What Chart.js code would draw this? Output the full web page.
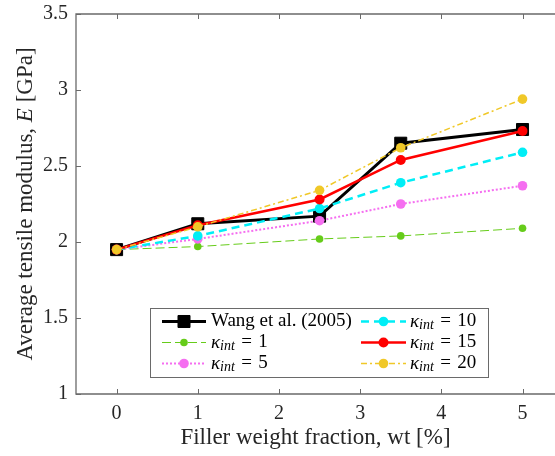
<!DOCTYPE html>
<html>
<head>
<meta charset="utf-8">
<script src="https://cdn.jsdelivr.net/npm/chart.js@4.4.1/dist/chart.umd.min.js"></script>
<style>
  html, body { margin: 0; padding: 0; background: #fff; overflow: hidden; }
  canvas { display: block; }
</style>
</head>
<body>
<canvas id="modulusChart" width="555" height="456"></canvas>
<script>
// filler content (wt %) and modulus E (GPa)
const wtFraction = [0, 1, 2.5, 3.5, 5];
const wang2005 = [1.95, 2.12, 2.17, 2.65, 2.74];
const kappa1 = [1.95, 1.97, 2.02, 2.04, 2.09];
const kappa5 = [1.95, 2.02, 2.14, 2.25, 2.37];
const kappa10 = [1.95, 2.04, 2.22, 2.39, 2.59];
const kappa15 = [1.95, 2.11, 2.28, 2.54, 2.73];
const kappa20 = [1.95, 2.10, 2.34, 2.62, 2.94];
const kappaValues = [1, 5, 10, 15, 20];
const xTicks = [0, 1, 2, 3, 4, 5];
const yTicks = [1, 1.5, 2, 2.5, 3, 3.5];

const serif = "'Liberation Serif', 'Times New Roman', serif";
const axisGray = "#6a6a6a";

function toPoints(values) {
  return values.map((v, i) => ({ x: wtFraction[i], y: v }));
}

const datasets = [
  {
    label: "Wang et al. (2005)",
    data: toPoints(wang2005),
    borderColor: "#000000",
    backgroundColor: "#000000",
    borderWidth: 3,
    pointStyle: "rect",
    pointRadius: 8.5,
    pointBorderWidth: 1,
    order: 6,
  },
  {
    label: "kappa=" + kappaValues[0],
    data: toPoints(kappa1),
    borderColor: "#66cc1a",
    backgroundColor: "#66cc1a",
    borderWidth: 1,
    borderDash: [9, 4],
    pointRadius: 3.8,
    pointBorderWidth: 0,
    order: 5,
  },
  {
    label: "kappa=" + kappaValues[1],
    data: toPoints(kappa5),
    borderColor: "#f56ef0",
    backgroundColor: "#f56ef0",
    borderWidth: 2,
    borderDash: [2, 2],
    pointRadius: 4.8,
    pointBorderWidth: 0,
    order: 4,
  },
  {
    label: "kappa=" + kappaValues[2],
    data: toPoints(kappa10),
    borderColor: "#00eef6",
    backgroundColor: "#00eef6",
    borderWidth: 2.5,
    borderDash: [8, 5],
    pointRadius: 4.8,
    pointBorderWidth: 0,
    order: 3,
  },
  {
    label: "kappa=" + kappaValues[3],
    data: toPoints(kappa15),
    borderColor: "#ff0000",
    backgroundColor: "#ff0000",
    borderWidth: 2.5,
    pointRadius: 5,
    pointBorderWidth: 0,
    order: 2,
  },
  {
    label: "kappa=" + kappaValues[4],
    data: toPoints(kappa20),
    borderColor: "#f0c828",
    backgroundColor: "#f0c828",
    borderWidth: 1.5,
    borderDash: [6, 3, 2, 3],
    pointRadius: 4.8,
    pointBorderWidth: 0,
    order: 1,
  },
];

// draws a sequence of text pieces with their own fonts, centred on (x, y)
function drawRich(ctx, parts, x, y) {
  let total = 0;
  parts.forEach((p) => {
    ctx.font = p.font;
    total += ctx.measureText(p.text).width;
  });
  drawLeftRich(ctx, parts, x - total / 2, y);
}

function drawLeftRich(ctx, parts, x, y) {
  let cx = x;
  parts.forEach((p) => {
    ctx.font = p.font;
    ctx.fillText(p.text, cx, y + (p.dy || 0));
    cx += ctx.measureText(p.text).width;
  });
}

function drawMarker(ctx, ds, x, y) {
  ctx.setLineDash([]);
  ctx.fillStyle = ds.backgroundColor;
  ctx.strokeStyle = ds.borderColor;
  ctx.beginPath();
  if (ds.pointStyle === "rect") {
    const s = ds.pointRadius * Math.SQRT1_2;
    ctx.rect(x - s, y - s, 2 * s, 2 * s);
    ctx.fill();
    ctx.lineWidth = ds.pointBorderWidth;
    ctx.stroke();
  } else {
    ctx.arc(x, y, ds.pointRadius, 0, Math.PI * 2);
    ctx.fill();
  }
}

const framePlugin = {
  id: "frame",
  beforeDatasetsDraw(chart) {
    const { ctx, chartArea: a, scales } = chart;
    ctx.save();
    ctx.strokeStyle = axisGray;
    ctx.lineWidth = 1.3;
    // left, bottom and top axis lines (right side stays open)
    ctx.beginPath();
    ctx.moveTo(chart.width, a.top);
    ctx.lineTo(a.left, a.top);
    ctx.lineTo(a.left, a.bottom);
    ctx.lineTo(chart.width, a.bottom);
    ctx.stroke();
    // inward tick marks
    ctx.lineWidth = 1;
    ctx.beginPath();
    xTicks.forEach((v) => {
      const px = Math.round(scales.x.getPixelForValue(v)) + 0.5;
      ctx.moveTo(px, a.bottom);
      ctx.lineTo(px, a.bottom - 5);
      ctx.moveTo(px, a.top);
      ctx.lineTo(px, a.top + 5);
    });
    yTicks.forEach((v) => {
      const py = Math.round(scales.y.getPixelForValue(v)) + 0.5;
      ctx.moveTo(a.left, py);
      ctx.lineTo(a.left + 5, py);
    });
    ctx.stroke();

    // y axis title with italic symbol
    ctx.translate(26, (a.top + a.bottom) / 2);
    ctx.rotate(-Math.PI / 2);
    ctx.fillStyle = "#262626";
    ctx.textBaseline = "middle";
    drawRich(ctx, [
      { text: "Average tensile modulus, ", font: "23px " + serif },
      { text: "E", font: "italic 23px " + serif },
      { text: " [GPa]", font: "23px " + serif },
    ], 0, 0);
    ctx.restore();
  },
  afterDatasetsDraw(chart) {
    const { ctx } = chart;
    const ds = chart.data.datasets;
    const box = { left: 150, top: 308, right: 488, bottom: 377 };
    ctx.save();
    ctx.fillStyle = "#ffffff";
    ctx.fillRect(box.left, box.top, box.right - box.left, box.bottom - box.top);
    ctx.strokeStyle = axisGray;
    ctx.lineWidth = 1;
    ctx.strokeRect(box.left + 0.5, box.top + 0.5, box.right - box.left, box.bottom - box.top);

    const rows = [321.5, 342.5, 363.5];
    const cols = [{ x0: 162, x1: 206, tx: 211 }, { x0: 361, x1: 406, tx: 410 }];
    // column-major arrangement: first three entries left, rest right
    ds.forEach((d, i) => {
      const col = cols[Math.floor(i / 3)];
      const y = rows[i % 3];
      ctx.strokeStyle = d.borderColor;
      ctx.lineWidth = d.borderWidth;
      ctx.setLineDash(d.borderDash || []);
      ctx.beginPath();
      ctx.moveTo(col.x0, y);
      ctx.lineTo(col.x1, y);
      ctx.stroke();
      drawMarker(ctx, d, (col.x0 + col.x1) / 2, y);

      ctx.fillStyle = "#000000";
      ctx.textBaseline = "middle";
      if (i === 0) {
        drawLeftRich(ctx, [{ text: d.label, font: "19px " + serif }], col.tx, y);
      } else {
        drawLeftRich(ctx, [
          { text: "\u03BA", font: "italic 19px " + serif },
          { text: "int", font: "italic 14px " + serif, dy: 4 },
          { text: "\u2004=\u2004" + kappaValues[i - 1], font: "19px " + serif },
        ], col.tx, y);
      }
    });
    ctx.restore();
  },
};

new Chart(document.getElementById("modulusChart"), {
  type: "line",
  data: { datasets: datasets },
  options: {
    responsive: false,
    animation: false,
    layout: { autoPadding: false, padding: { top: 14, left: 0, right: 0, bottom: 0 } },
    plugins: {
      legend: { display: false },
      tooltip: { enabled: false },
    },
    scales: {
      x: {
        type: "linear",
        min: -0.5,
        max: 5.4,
        afterBuildTicks: (scale) => {
          scale.ticks = xTicks.map((v) => ({ value: v }));
        },
        afterFit: (scale) => {
          scale.height = 62;
          scale.paddingLeft = 0;
          scale.paddingRight = 0;
        },
        grid: { display: false, drawTicks: false },
        border: { display: false },
        ticks: {
          padding: 8,
          color: "#262626",
          font: { family: serif, size: 20 },
          callback: (v) => String(v),
        },
        title: {
          display: true,
          text: "Filler weight fraction, wt [%]",
          color: "#262626",
          font: { family: serif, size: 23 },
          padding: { top: 0, bottom: 4 },
        },
      },
      y: {
        min: 1,
        max: 3.5,
        afterBuildTicks: (scale) => {
          scale.ticks = yTicks.map((v) => ({ value: v }));
        },
        afterFit: (scale) => {
          scale.width = 76;
          scale.paddingTop = 0;
          scale.paddingBottom = 0;
        },
        grid: { display: false, drawTicks: false },
        border: { display: false },
        ticks: {
          padding: 8,
          color: "#262626",
          font: { family: serif, size: 20 },
          callback: (v) => String(v),
        },
      },
    },
  },
  plugins: [framePlugin],
});
</script>
</body>
</html>
